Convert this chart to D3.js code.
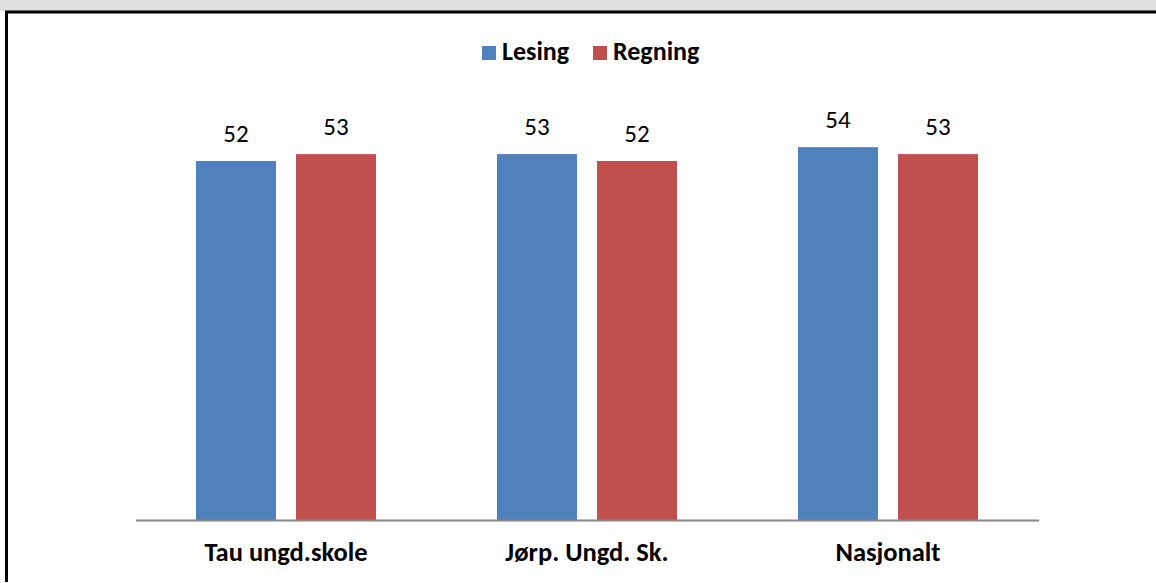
<!DOCTYPE html>
<html>
<head>
<meta charset="utf-8">
<script src="https://cdn.jsdelivr.net/npm/d3@7"></script>
<style>
  body { margin: 0; background: #fff; }
  svg text { font-family: Carlito, Calibri, Lato, "Open Sans", sans-serif; }
</style>
</head>
<body>
<div id="chart"></div>
<script>
// 数値データ
const categories = ['Tau ungd.skole', 'Jørp. Ungd. Sk.', 'Nasjonalt'];
const seriesNames = ['Lesing', 'Regning'];
const lesing = [52, 53, 54];
const regning = [53, 52, 53];
const colors = ['#4f81bd', '#c0504d'];

const width = 1156, height = 583;

const svg = d3.select('#chart').append('svg')
    .attr('width', width)
    .attr('height', height);

// 枠
svg.append('rect').attr('x', 0).attr('y', 0).attr('width', width).attr('height', 11).attr('fill', '#dfdfdf');
svg.append('line').attr('x1', 5).attr('x2', width).attr('y1', 12).attr('y2', 12)
    .attr('stroke', '#000').attr('stroke-width', 3);
svg.append('line').attr('x1', 6.5).attr('x2', 6.5).attr('y1', 11).attr('y2', 582)
    .attr('stroke', '#000').attr('stroke-width', 3);

// スケール
const x0 = d3.scaleBand()
    .domain(categories)
    .range([135.5, 1038.5])
    .paddingInner(0.402)
    .paddingOuter(0.201);

const x1 = d3.scaleBand()
    .domain(seriesNames)
    .range([0, x0.bandwidth()])
    .paddingInner(0.2);

const y = d3.scaleLinear()
    .domain([0, 60])
    .range([520, 520 - 60 * 6.904]);

const data = categories.map((c, i) => ({
    category: c,
    values: [
        { name: 'Lesing', value: lesing[i] },
        { name: 'Regning', value: regning[i] }
    ]
}));

const groups = svg.selectAll('g.group')
    .data(data)
    .enter()
    .append('g')
    .attr('class', 'group')
    .attr('transform', d => `translate(${x0(d.category)},0)`);

groups.selectAll('rect')
    .data(d => d.values)
    .enter()
    .append('rect')
    .attr('x', d => x1(d.name))
    .attr('y', d => y(d.value))
    .attr('width', x1.bandwidth())
    .attr('height', d => y(0) - y(d.value))
    .attr('fill', (d, i) => colors[i]);

// 値ラベル
groups.selectAll('text.val')
    .data(d => d.values)
    .enter()
    .append('text')
    .attr('class', 'val')
    .attr('x', d => x1(d.name) + x1.bandwidth() / 2)
    .attr('y', d => y(d.value) - 19)
    .attr('text-anchor', 'middle')
    .attr('font-size', '25px')
    .attr('fill', '#000')
    .text(d => d.value);

// 横軸
const xAxis = svg.append('g')
    .attr('transform', `translate(0,${y(0)})`)
    .call(d3.axisBottom(x0).tickSize(0).tickSizeOuter(0));
xAxis.select('.domain').attr('stroke', '#868686').attr('stroke-width', 2);
xAxis.selectAll('text')
    .attr('y', 40.5)
    .attr('dy', 0)
    .attr('font-size', '26.5px')
    .attr('font-weight', 'bold')
    .attr('fill', '#000')
    .style('font-family', 'Carlito, Calibri, Lato, "Open Sans", sans-serif');

// 凡例
const legendX = [482, 593];
const legend = svg.selectAll('g.legend')
    .data(seriesNames)
    .enter()
    .append('g')
    .attr('class', 'legend')
    .attr('transform', (d, i) => `translate(${legendX[i]},46)`);
legend.append('rect')
    .attr('width', 14).attr('height', 14)
    .attr('fill', (d, i) => colors[i]);
legend.append('text')
    .attr('x', 20)
    .attr('y', 13.5)
    .attr('font-size', '26px')
    .attr('font-weight', 'bold')
    .attr('fill', '#000')
    .text(d => d);
</script>
</body>
</html>
